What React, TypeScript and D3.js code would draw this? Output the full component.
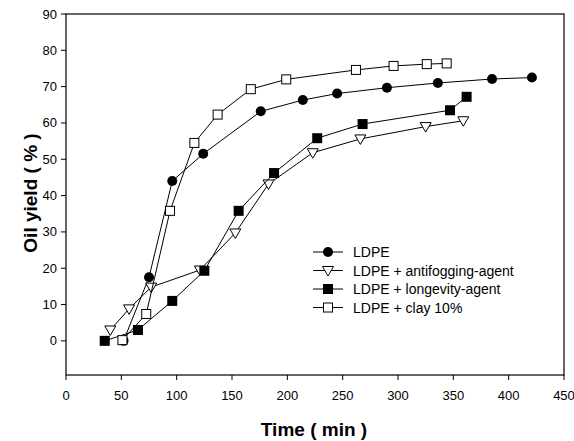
import React from 'react';
import * as d3 from 'd3';

// values: time (min) and oil yield (%)
const ldpeTime = [52, 75, 96, 124, 176, 214, 245, 290, 336, 385, 421];
const ldpeYield = [0, 17.5, 44, 51.5, 63.2, 66.3, 68.1, 69.7, 71, 72.1, 72.5];

const antifogTime = [40, 57, 77, 121, 153, 183, 223, 266, 325, 359];
const antifogYield = [3, 8.8, 14.8, 19.5, 29.7, 43.2, 51.8, 55.6, 59, 60.6];

const longevityTime = [35, 65, 96, 125, 156, 188, 227, 268, 347, 362];
const longevityYield = [0, 3, 11, 19.3, 35.8, 46.2, 55.8, 59.7, 63.5, 67.2];

const clayTime = [51, 72.5, 94, 116, 137, 167, 199, 262, 296, 326, 344];
const clayYield = [0.2, 7.4, 35.8, 54.5, 62.3, 69.3, 72, 74.6, 75.7, 76.2, 76.4];

const seriesNames = ['LDPE', 'LDPE + antifogging-agent', 'LDPE + longevity-agent', 'LDPE + clay 10%'];
const xTicks = [0, 50, 100, 150, 200, 250, 300, 350, 400, 450];
const yTicks = [0, 10, 20, 30, 40, 50, 60, 70, 80, 90];

type Kind = 'circle' | 'triangle' | 'filledSquare' | 'openSquare';

const Marker = ({ kind, x, y }: { kind: Kind; x: number; y: number }) => {
    if (kind === 'circle') return <circle cx={x} cy={y} r={5} fill="#000" />;
    if (kind === 'triangle') {
        const pts = `${x - 5.5},${y - 4} ${x + 5.5},${y - 4} ${x},${y + 5.5}`;
        return <polygon points={pts} fill="#fff" stroke="#000" strokeWidth={1} />;
    }
    if (kind === 'filledSquare') return <rect x={x - 5} y={y - 5} width={10} height={10} fill="#000" />;
    return <rect x={x - 4.5} y={y - 4.5} width={9} height={9} fill="#fff" stroke="#000" strokeWidth={1} />;
};

const App = () => {
    const width = 574;
    const height = 441;
    const margin = { top: 14, right: 10, bottom: 66, left: 66 };

    const x = d3.scaleLinear().domain([0, 450]).range([margin.left, width - margin.right]);
    const y = d3.scaleLinear().domain([-9.4, 90]).range([height - margin.bottom, margin.top]);

    const series: { name: string; kind: Kind; t: number[]; v: number[] }[] = [
        { name: seriesNames[0], kind: 'circle', t: ldpeTime, v: ldpeYield },
        { name: seriesNames[1], kind: 'triangle', t: antifogTime, v: antifogYield },
        { name: seriesNames[2], kind: 'filledSquare', t: longevityTime, v: longevityYield },
        { name: seriesNames[3], kind: 'openSquare', t: clayTime, v: clayYield },
    ];

    const line = d3.line<[number, number]>()
        .x(d => x(d[0]))
        .y(d => y(d[1]));

    const x0 = x(0), x1 = x(450);
    const yTop = y(90), yBot = y(-9.4);
    const font = 'Arial, "Liberation Sans", sans-serif';

    return (
        <svg width={width} height={height} style={{ position: 'absolute', left: 0, top: 0, background: '#fff' }}>
            <rect x={x0} y={yTop} width={x1 - x0} height={yBot - yTop} fill="none" stroke="#000" strokeWidth={1.2} />

            {xTicks.map(t => (
                <g key={`xt-${t}`}>
                    <line x1={x(t)} x2={x(t)} y1={yBot} y2={yBot + 5} stroke="#000" />
                    <text x={x(t)} y={400} textAnchor="middle" fontFamily={font} fontSize={13}>{t}</text>
                </g>
            ))}
            {yTicks.map(v => (
                <g key={`yt-${v}`}>
                    <line x1={x0 - 5} x2={x0} y1={y(v)} y2={y(v)} stroke="#000" />
                    <text x={57} y={y(v) + 4.5} textAnchor="end" fontFamily={font} fontSize={13}>{v}</text>
                </g>
            ))}

            <text x={314} y={436} textAnchor="middle" fontFamily={font} fontSize={19} fontWeight="bold">Time ( min )</text>
            <text transform={`translate(37, 193) rotate(-90)`} textAnchor="middle" fontFamily={font} fontSize={19} fontWeight="bold">Oil yield ( % )</text>

            {series.map(s => {
                const pts = s.t.map((t, i) => [t, s.v[i]] as [number, number]);
                return (
                    <g key={s.name}>
                        <path d={line(pts) || ''} fill="none" stroke="#000" strokeWidth={1} />
                        {pts.map((p, i) => <Marker key={i} kind={s.kind} x={x(p[0])} y={y(p[1])} />)}
                    </g>
                );
            })}

            {series.map((s, i) => {
                const ly = 252 + i * 18.5;
                return (
                    <g key={`lg-${s.name}`}>
                        <line x1={313} x2={343} y1={ly} y2={ly} stroke="#000" />
                        <Marker kind={s.kind} x={328} y={ly} />
                        <text x={353} y={ly + 5} fontFamily={font} fontSize={14}>{s.name}</text>
                    </g>
                );
            })}
        </svg>
    );
};

export default App;
